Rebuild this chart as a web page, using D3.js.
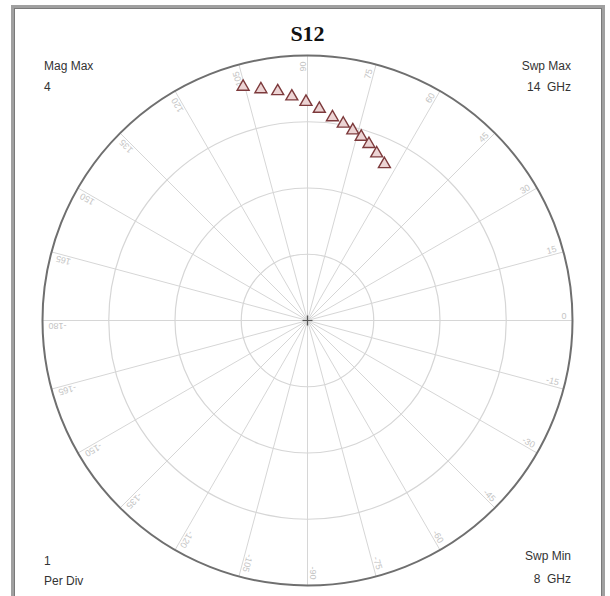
<!DOCTYPE html>
<html>
<head>
<meta charset="utf-8">
<script src="https://cdn.jsdelivr.net/npm/d3@7"></script>
<style>
  html, body { margin: 0; padding: 0; background: #fff; }
  svg { display: block; }
</style>
</head>
<body>
<svg id="chart" width="610" height="596"></svg>
<script>
// S12 sweep, 8–14 GHz in 0.5 GHz steps
const freqGHz = [8, 8.5, 9, 9.5, 10, 10.5, 11, 11.5, 12, 12.5, 13, 13.5, 14];
const magnitude = [3.66, 3.56, 3.49, 3.39, 3.30, 3.20, 3.09, 3.02, 2.95, 2.89, 2.82, 2.73, 2.63];
const phaseDeg = [105.4, 101.4, 97.4, 94.0, 90.4, 86.8, 83.0, 79.7, 76.6, 73.7, 70.8, 67.5, 63.8];

// Grid definition
const ringValues = [1, 2, 3, 4];
const spokeAngles = d3.range(0, 360, 15);
const spokeLabels = ["0", "15", "30", "45", "60", "75", "90", "105", "120", "135", "150", "165",
                     "-180", "-165", "-150", "-135", "-120", "-105", "-90", "-75", "-60", "-45", "-30", "-15"];

const svg = d3.select("#chart");
const cx = 307.5, cy = 320.5, R = 265;

const r = d3.scaleLinear().domain([0, 4]).range([0, R]);
const toRad = d => d * Math.PI / 180;
const px = (m, a) => cx + r(m) * Math.cos(toRad(a));
const py = (m, a) => cy - r(m) * Math.sin(toRad(a));

// Panel frame
svg.append("rect")
  .attr("x", 12.5).attr("y", 6.5).attr("width", 591).attr("height", 600)
  .attr("fill", "#fff").attr("stroke", "#a0a0a0").attr("stroke-width", 3);
svg.append("rect")
  .attr("x", 14.5).attr("y", 8.5).attr("width", 587).attr("height", 600)
  .attr("fill", "none").attr("stroke", "#7a7a7a").attr("stroke-width", 1);

// Spokes
svg.append("g").selectAll("line").data(spokeAngles).join("line")
  .attr("x1", cx).attr("y1", cy)
  .attr("x2", a => px(4, a)).attr("y2", a => py(4, a))
  .attr("stroke", "#d6d6d6").attr("stroke-width", 1);

// Magnitude rings
svg.append("g").selectAll("circle").data(ringValues).join("circle")
  .attr("cx", cx).attr("cy", cy).attr("r", d => r(d))
  .attr("fill", "none")
  .attr("stroke", d => d === 4 ? "#6f6f6f" : "#d6d6d6")
  .attr("stroke-width", d => d === 4 ? 2 : 1.2);

// Angle labels along each spoke, just inside the outer ring
svg.append("g").selectAll("text").data(spokeAngles).join("text")
  .attr("transform", (a, i) => {
    const x = px(4, a) - 6 * Math.cos(toRad(a));
    const y = py(4, a) + 6 * Math.sin(toRad(a));
    return `translate(${x},${y}) rotate(${-a})`;
  })
  .attr("dy", -2)
  .attr("text-anchor", "end")
  .attr("font-family", "Liberation Sans, Arial, sans-serif")
  .attr("font-size", 9)
  .attr("fill", "#c4c4c4")
  .text((a, i) => spokeLabels[i]);

// Center cross
svg.append("path")
  .attr("d", `M${cx - 5},${cy}H${cx + 5}M${cx},${cy - 5}V${cy + 5}`)
  .attr("stroke", "#555").attr("stroke-width", 1.2);

// Data markers
const tri = d3.symbol().type(d3.symbolTriangle).size(62);
svg.append("g").selectAll("path").data(freqGHz).join("path")
  .attr("d", tri)
  .attr("transform", (f, i) => `translate(${px(magnitude[i], phaseDeg[i])},${py(magnitude[i], phaseDeg[i])})`)
  .attr("fill", "#ecd4d4")
  .attr("stroke", "#7d3a3c")
  .attr("stroke-width", 1.4);

// Title
svg.append("text")
  .attr("x", cx).attr("y", 41)
  .attr("text-anchor", "middle")
  .attr("font-family", "Liberation Serif, Times New Roman, serif")
  .attr("font-weight", "bold")
  .attr("font-size", 22)
  .attr("fill", "#111")
  .text("S12");

// Corner annotations
const corner = [
  { t: "Mag Max", x: 44, y: 70, a: "start" },
  { t: "4", x: 44, y: 91, a: "start" },
  { t: "Swp Max", x: 571, y: 70, a: "end" },
  { t: "14  GHz", x: 571, y: 91, a: "end" },
  { t: "1", x: 44, y: 565, a: "start" },
  { t: "Per Div", x: 44, y: 585, a: "start" },
  { t: "Swp Min", x: 571, y: 560, a: "end" },
  { t: "8  GHz", x: 571, y: 583, a: "end" }
];
svg.append("g").selectAll("text").data(corner).join("text")
  .attr("x", d => d.x).attr("y", d => d.y)
  .attr("text-anchor", d => d.a)
  .attr("font-family", "Liberation Sans, Arial, sans-serif")
  .attr("font-size", 12)
  .attr("fill", "#333")
  .attr("xml:space", "preserve")
  .style("white-space", "pre")
  .text(d => d.t);
</script>
</body>
</html>
